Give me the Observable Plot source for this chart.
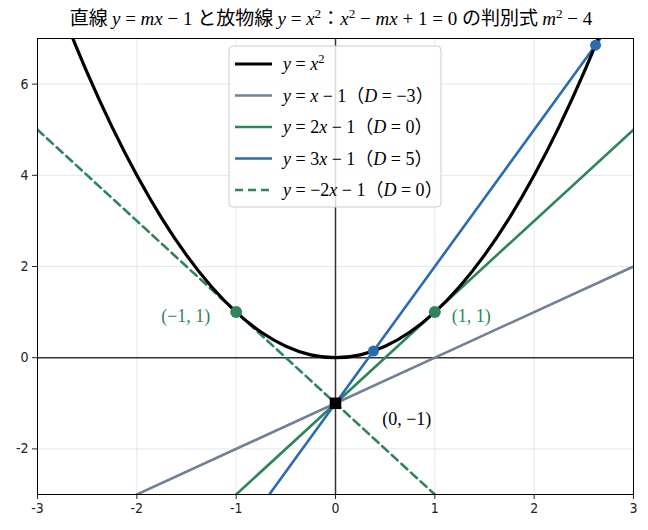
<!DOCTYPE html>
<html><head><meta charset="utf-8">
<script src="https://cdn.jsdelivr.net/npm/d3@7"></script>
<script src="https://cdn.jsdelivr.net/npm/@observablehq/plot@0.6"></script>
<style>
body{margin:0;background:#fff;}
#chart svg{display:block;}
</style>
</head><body><div id="chart"></div>
<script>
// ---- data ----
const xTicks = [-3, -2, -1, 0, 1, 2, 3];
const yTicks = [-2, 0, 2, 4, 6];
const parabolaX = [-2.75,-2.5,-2.25,-2,-1.75,-1.5,-1.25,-1,-0.75,-0.5,-0.25,0,0.25,0.5,0.75,1,1.25,1.5,1.75,2,2.25,2.5,2.75];
const parabolaY = [7.5625,6.25,5.0625,4,3.0625,2.25,1.5625,1,0.5625,0.25,0.0625,0,0.0625,0.25,0.5625,1,1.5625,2.25,3.0625,4,5.0625,6.25,7.5625];
const lineNames = ["m1", "m2", "m3", "mneg2"];
const lineX = [[-3, 3], [-3, 3], [-3, 3], [-3, 3]];
const lineY = [[-4, 2], [-7, 5], [-10, 8], [5, -7]];
const lineColors = ["#718096", "#2f855a", "#2b6cb0", "#2f855a"];
const lineDash = [null, null, null, "8,5"];
const greenPtsX = [-1, 1], greenPtsY = [1, 1];
const bluePtsX = [0.382, 2.618], bluePtsY = [0.146, 6.854];
const squareX = [0], squareY = [-1];
const labelTexts = ["(−1, 1)", "(1, 1)", "(0, −1)"];
const labelX = [-1.26, 1.17, 0.47];
const labelY = [0.9, 0.9, -1.36];
const labelColors = ["#2f855a", "#2f855a", "#000"];
const labelAnchor = ["end", "start", "start"];

const parabola = parabolaX.map((x, i) => ({x, y: parabolaY[i]}));
const lineData = lineNames.flatMap((n, k) => lineX[k].map((x, j) => ({n, k, x, y: lineY[k][j]})));
const labels = labelTexts.map((t, i) => ({t, x: labelX[i], y: labelY[i], c: labelColors[i], a: labelAnchor[i]}));

const mathFont = "'Liberation Serif', 'DejaVu Serif', serif";
const cjkFont = "'Noto Sans CJK JP', sans-serif";
const tickFont = "'Liberation Sans Narrow', 'DejaVu Sans Condensed', 'Liberation Sans', sans-serif";

const plot = Plot.plot({
  width: 648, height: 530,
  marginTop: 38, marginBottom: 36, marginLeft: 37, marginRight: 15,
  x: {domain: [-3, 3], ticks: xTicks, tickFormat: d => String(d), label: null, tickSize: 5},
  y: {domain: [-3, 7], ticks: yTicks, tickFormat: d => String(d), label: null, tickSize: 5},
  style: {fontFamily: tickFont, fontSize: "14px", color: "#222"},
  marks: [
    Plot.gridX(xTicks, {stroke: "#e2e8f0", strokeOpacity: 1}),
    Plot.gridY(yTicks, {stroke: "#e2e8f0", strokeOpacity: 1}),
    Plot.ruleY([0], {stroke: "#333", strokeWidth: 1.5}),
    Plot.ruleX([0], {stroke: "#333", strokeWidth: 1.5}),
    ...lineNames.map((n, k) => Plot.line(lineData.filter(d => d.k === k), {
      x: "x", y: "y", stroke: lineColors[k], strokeWidth: 2.6,
      strokeDasharray: lineDash[k], clip: true
    })),
    Plot.line(parabola, {x: "x", y: "y", curve: "natural", stroke: "#000", strokeWidth: 3.2, clip: true}),
    Plot.dot(greenPtsX.map((x, i) => ({x, y: greenPtsY[i]})), {x: "x", y: "y", r: 6, fill: "#2f855a"}),
    Plot.dot(bluePtsX.map((x, i) => ({x, y: bluePtsY[i]})), {x: "x", y: "y", r: 5.5, fill: "#2b6cb0"}),
    Plot.dot(squareX.map((x, i) => ({x, y: squareY[i]})), {x: "x", y: "y", r: 6.5, symbol: "square", fill: "#000"}),
    ...labels.map(l => Plot.text([l], {x: "x", y: "y", text: "t", fill: l.c, textAnchor: l.a, fontSize: 18, fontFamily: mathFont})),
    Plot.frame({stroke: "#000", strokeWidth: 1})
  ]
});
document.getElementById("chart").appendChild(plot);

// ---- title & legend ----
const svg = d3.select(plot);
function rich(sel, segs) {
  segs.forEach(s => {
    const t = sel.append("tspan").text(s.t);
    if (s.i) t.attr("font-style", "italic");
    if (s.cjk) t.attr("font-family", cjkFont);
    if (s.sup) t.attr("baseline-shift", "super").attr("font-size", "70%");
  });
}
const title = svg.append("text").attr("x", 331).attr("y", 25).attr("text-anchor", "middle")
  .attr("font-family", mathFont).attr("font-size", 19).attr("fill", "#000");
rich(title, [
  {t: "直線 ", cjk: true}, {t: "y", i: true}, {t: " = "}, {t: "mx", i: true}, {t: " − 1 "},
  {t: "と放物線 ", cjk: true}, {t: "y", i: true}, {t: " = "}, {t: "x", i: true}, {t: "2", sup: true},
  {t: "：", cjk: true}, {t: "x", i: true}, {t: "2", sup: true}, {t: " − "}, {t: "mx", i: true},
  {t: " + 1 = 0 "}, {t: "の判別式 ", cjk: true}, {t: "m", i: true}, {t: "2", sup: true}, {t: " − 4"}
]);

const legendItems = [
  {c: "#000", w: 3.2, dash: null, segs: [{t: "y", i: true}, {t: " = "}, {t: "x", i: true}, {t: "2", sup: true}]},
  {c: lineColors[0], w: 2.6, dash: null, segs: [{t: "y", i: true}, {t: " = "}, {t: "x", i: true}, {t: " − 1"}, {t: "（", cjk: true}, {t: "D", i: true}, {t: " = −3"}, {t: "）", cjk: true}]},
  {c: lineColors[1], w: 2.6, dash: null, segs: [{t: "y", i: true}, {t: " = 2"}, {t: "x", i: true}, {t: " − 1"}, {t: "（", cjk: true}, {t: "D", i: true}, {t: " = 0"}, {t: "）", cjk: true}]},
  {c: lineColors[2], w: 2.6, dash: null, segs: [{t: "y", i: true}, {t: " = 3"}, {t: "x", i: true}, {t: " − 1"}, {t: "（", cjk: true}, {t: "D", i: true}, {t: " = 5"}, {t: "）", cjk: true}]},
  {c: lineColors[3], w: 2.6, dash: "8,5", segs: [{t: "y", i: true}, {t: " = −2"}, {t: "x", i: true}, {t: " − 1"}, {t: "（", cjk: true}, {t: "D", i: true}, {t: " = 0"}, {t: "）", cjk: true}]}
];
const lg = svg.append("g").attr("text-anchor", "start");
lg.append("rect").attr("x", 229).attr("y", 46).attr("width", 212).attr("height", 161)
  .attr("rx", 4).attr("fill", "#fff").attr("fill-opacity", 0.82).attr("stroke", "#ccc").attr("stroke-width", 1);
legendItems.forEach((it, i) => {
  const y = 64 + i * 31.5;
  lg.append("line").attr("x1", 235).attr("x2", 272).attr("y1", y).attr("y2", y)
    .attr("stroke", it.c).attr("stroke-width", it.w).attr("stroke-dasharray", it.dash);
  const t = lg.append("text").attr("x", 283).attr("y", y + 6).attr("text-anchor", "start")
    .attr("font-family", mathFont).attr("font-size", 18).attr("fill", "#000");
  rich(t, it.segs);
});
</script></body></html>
